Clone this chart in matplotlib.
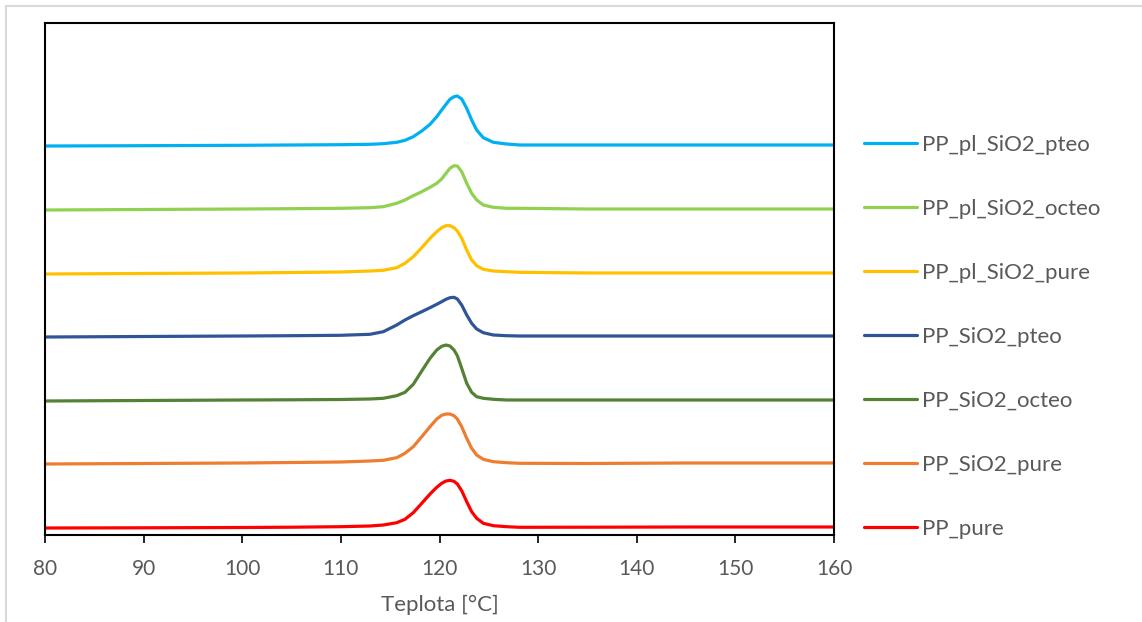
import matplotlib
matplotlib.use("Agg")
import matplotlib.pyplot as plt
from matplotlib.patches import Rectangle

# ── Data (arbitrary heat-flow units, offset per curve) ──

temperature = [80, 90, 100, 105, 110, 112.95, 114.30, 115.66, 116.50, 117.34, 118.20,
               119.04, 119.72, 120.22, 120.66, 121.06, 121.47, 121.81, 122.25, 122.76,
               123.26, 123.77, 124.44, 125.46, 126.81, 128.13, 135, 145, 160]

pp_pure = [0.70, 0.72, 0.75, 0.78, 0.83, 0.90, 1.00, 1.23, 1.57, 2.23, 3.17,
           4.10, 4.77, 5.17, 5.40, 5.47, 5.37, 5.10, 4.43, 3.33,
           2.33, 1.67, 1.17, 0.93, 0.83, 0.77, 0.78, 0.80, 0.80]

pp_sio2_pure = [7.10, 7.15, 7.20, 7.25, 7.30, 7.40, 7.47, 7.73, 8.17, 8.83, 9.83,
                10.83, 11.60, 11.97, 12.10, 12.10, 11.93, 11.60, 10.83, 9.67,
                8.67, 8.00, 7.57, 7.33, 7.23, 7.17, 7.15, 7.20, 7.20]

pp_sio2_octeo = [13.40, 13.45, 13.50, 13.52, 13.55, 13.60, 13.67, 13.93, 14.27, 15.07, 16.40,
                 17.67, 18.50, 18.87, 19.00, 18.90, 18.50, 17.93, 16.67, 15.17,
                 14.27, 13.83, 13.67, 13.57, 13.50, 13.50, 13.50, 13.50, 13.50]

pp_sio2_pteo = [19.80, 19.85, 19.90, 19.93, 19.97, 20.07, 20.33, 21.00, 21.50, 21.93, 22.33,
                22.73, 23.07, 23.33, 23.57, 23.73, 23.77, 23.60, 23.00, 22.00,
                21.17, 20.60, 20.23, 20.00, 19.93, 19.90, 19.90, 19.90, 19.90]

pp_pl_sio2_pure = [26.10, 26.15, 26.20, 26.25, 26.30, 26.40, 26.47, 26.73, 27.17, 27.83, 28.73,
                   29.67, 30.33, 30.73, 30.93, 30.93, 30.73, 30.40, 29.67, 28.50,
                   27.50, 26.93, 26.57, 26.40, 26.33, 26.27, 26.20, 26.20, 26.20]

pp_pl_sio2_octeo = [32.50, 32.55, 32.60, 32.63, 32.67, 32.73, 32.83, 33.17, 33.50, 33.93, 34.33,
                    34.77, 35.17, 35.60, 36.17, 36.67, 36.93, 36.90, 36.33, 35.17,
                    34.17, 33.50, 33.00, 32.77, 32.67, 32.67, 32.60, 32.60, 32.60]

pp_pl_sio2_pteo = [38.90, 38.93, 38.97, 39.00, 39.03, 39.07, 39.13, 39.27, 39.47, 39.83, 40.40,
                   41.07, 41.83, 42.50, 43.07, 43.57, 43.83, 43.90, 43.60, 42.67,
                   41.50, 40.50, 39.73, 39.27, 39.10, 39.00, 39.00, 39.00, 39.00]

labels = ["PP_pure", "PP_SiO2_pure", "PP_SiO2_octeo", "PP_SiO2_pteo",
          "PP_pl_SiO2_pure", "PP_pl_SiO2_octeo", "PP_pl_SiO2_pteo"]
x_ticks = [80, 90, 100, 110, 120, 130, 140, 150, 160]

series = [pp_pure, pp_sio2_pure, pp_sio2_octeo, pp_sio2_pteo,
          pp_pl_sio2_pure, pp_pl_sio2_octeo, pp_pl_sio2_pteo]
colors = ["#FF0000", "#ED7D31", "#548235", "#2F5597", "#FFC000", "#92D050", "#00B0F0"]

# ── Plot ─────────────────────────────────────────────────────────────────────

plt.rcParams["font.family"] = ["Lato", "DejaVu Sans"]

fig = plt.figure(figsize=(11.42, 6.22), dpi=100)
ax = fig.add_axes([45 / 1142, 1 - 535 / 622, (834 - 45) / 1142, (535 - 23) / 622])

handles = []
for y, c, lab in zip(series, colors, labels):
    h, = ax.plot(temperature, y, color=c, linewidth=2.3, label=lab,
                 solid_capstyle="round", solid_joinstyle="round")
    handles.append(h)

ax.set_xlim(80, 160)
ax.set_ylim(0, 51.2)
ax.set_xticks(x_ticks)
ax.set_yticks([])
ax.tick_params(axis="x", direction="out", length=6, width=1.2, color="black",
               labelsize=15, labelcolor="#595959", pad=11)
for s in ax.spines.values():
    s.set_linewidth(1.5)
    s.set_color("black")
ax.set_xlabel("Teplota [°C]", fontsize=16, color="#595959", labelpad=12)

fig.legend(handles[::-1], labels[::-1], loc="upper left",
           bbox_to_anchor=(864 / 1142, 1 - 135 / 622),
           frameon=False, fontsize=16, labelcolor="#595959",
           handlelength=2.39, handletextpad=0.23, labelspacing=1.98,
           borderaxespad=0, borderpad=0)

# light grey outer frame of the chart object
fig.patches.append(Rectangle((6 / 1142, -0.01), 1.02, 1 - 6 / 622 + 0.01,
                             transform=fig.transFigure, fill=False,
                             edgecolor="#D9D9D9", linewidth=1.5))

fig.savefig("out.png", dpi=100)
